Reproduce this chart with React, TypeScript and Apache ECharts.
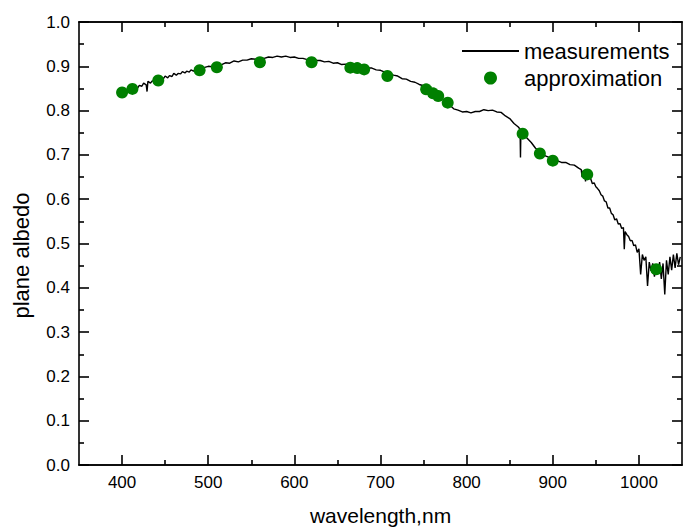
import React, { useEffect, useRef } from "react";
import * as echarts from "echarts";

// wavelength (nm) / plane albedo pairs
const measurementsVisible: [number, number][] = [
  [400, 0.842], [403, 0.846], [405, 0.848], [408, 0.845], [410, 0.849], [413, 0.853], [415, 0.855], [418, 0.851], [420, 0.857], [423, 0.855], [425, 0.862],
  [428, 0.858], [429, 0.843], [430, 0.866], [433, 0.862], [435, 0.867], [438, 0.866], [440, 0.873], [443, 0.868], [445, 0.874],
  [448, 0.872], [450, 0.878], [453, 0.874], [455, 0.879], [458, 0.877], [460, 0.884], [463, 0.880], [465, 0.884], [468, 0.883], [470, 0.888], [473, 0.885], [475, 0.889],
  [478, 0.887], [480, 0.892], [483, 0.889], [485, 0.893], [488, 0.891], [490, 0.896], [493, 0.894], [495, 0.897], [500, 0.900], [505, 0.899],
  [510, 0.904], [515, 0.903], [520, 0.908], [525, 0.907], [530, 0.912], [535, 0.910],
  [540, 0.914], [545, 0.914], [550, 0.917], [555, 0.916], [560, 0.919], [565, 0.918],
  [570, 0.921], [575, 0.920], [580, 0.923], [585, 0.921], [590, 0.923], [595, 0.920],
  [600, 0.921], [605, 0.918], [610, 0.918], [615, 0.915], [620, 0.916], [625, 0.913],
  [630, 0.913], [635, 0.910], [640, 0.911], [645, 0.907], [650, 0.908], [655, 0.904],
  [660, 0.905], [665, 0.902], [670, 0.902], [675, 0.899], [680, 0.899], [685, 0.896],
  [690, 0.896], [695, 0.892], [700, 0.891], [705, 0.887], [710, 0.885], [715, 0.880],
  [720, 0.878], [725, 0.872], [730, 0.871], [735, 0.866], [740, 0.864], [745, 0.859],
  [750, 0.856], [755, 0.849], [760, 0.845], [765, 0.836], [770, 0.831], [775, 0.821],
  [780, 0.813], [785, 0.804], [790, 0.801], [795, 0.797],
];

const measurementsNearIR: [number, number][] = [
  [800, 0.798], [805, 0.795], [810, 0.798], [815, 0.798], [820, 0.802], [825, 0.800],
  [830, 0.801], [835, 0.797], [840, 0.796], [845, 0.788], [850, 0.782], [855, 0.771],
  [860, 0.763], [862, 0.758], [862.5, 0.694], [863, 0.756], [865, 0.751], [870, 0.738],
  [875, 0.728], [880, 0.715], [885, 0.708], [890, 0.699], [895, 0.695], [900, 0.688],
  [905, 0.687], [910, 0.683], [915, 0.683], [920, 0.678], [925, 0.677], [930, 0.670],
  [933, 0.667], [934, 0.650], [935, 0.664], [937, 0.661], [938, 0.640], [939, 0.659],
  [940, 0.656],
];

const measurementsNoisy: [number, number][] = [
  [942, 0.648], [944, 0.646], [946, 0.635], [948, 0.637], [950, 0.628], [952, 0.624],
  [954, 0.619], [956, 0.610], [958, 0.607], [960, 0.596], [962, 0.594], [964, 0.580],
  [966, 0.580], [968, 0.568], [970, 0.565], [972, 0.553], [974, 0.556], [976, 0.544],
  [978, 0.545], [980, 0.534], [982, 0.536], [983, 0.487], [984, 0.527], [986, 0.520],
  [988, 0.516], [990, 0.506], [992, 0.507], [994, 0.495], [996, 0.497], [998, 0.480],
  [1000, 0.488], [1002, 0.430], [1004, 0.475], [1006, 0.462], [1008, 0.470], [1010, 0.404],
  [1012, 0.458], [1014, 0.438], [1016, 0.455], [1018, 0.425], [1020, 0.450], [1022, 0.432],
  [1024, 0.458], [1026, 0.420], [1028, 0.455], [1030, 0.385], [1032, 0.462], [1034, 0.430],
  [1036, 0.470], [1038, 0.440], [1040, 0.475], [1042, 0.445], [1044, 0.478], [1046, 0.452],
  [1048, 0.470],
];

const approxWavelengths = [400, 412, 442, 490, 510, 560, 620, 665, 673, 681, 708, 753, 761, 767, 778, 865, 885, 900, 940, 1020];
const approxValues = [0.841, 0.849, 0.868, 0.891, 0.898, 0.909, 0.909, 0.897, 0.896, 0.893, 0.878, 0.848, 0.839, 0.833, 0.818, 0.748, 0.703, 0.687, 0.656, 0.442];

const xMajorTicks = [400, 500, 600, 700, 800, 900, 1000];
const xMinorTicks = [450, 550, 650, 750, 850, 950];

const FONT = "'Liberation Sans', Arial, Helvetica, sans-serif";

export default function App() {
  const ref = useRef<HTMLDivElement>(null);

  useEffect(() => {
    if (!ref.current) return;
    const chart = echarts.init(ref.current, undefined, { renderer: "svg" });
    const measData = [...measurementsVisible, ...measurementsNearIR, ...measurementsNoisy];
    const approxData = approxWavelengths.map((w, i) => [w, approxValues[i]]);
    const axisLine = { show: true, lineStyle: { color: "#000", width: 1.6 } };
    const xBase = { type: "value", min: 350, max: 1050, splitLine: { show: false }, axisLine };

    chart.setOption({
      animation: false,
      backgroundColor: "#fff",
      textStyle: { fontFamily: FONT },
      grid: { left: 79, right: 1, top: 22, bottom: 65, containLabel: false },
      legend: {
        orient: "vertical",
        left: 462,
        top: 40,
        padding: 0,
        itemWidth: 57,
        itemHeight: 13,
        itemGap: 5,
        data: [
          { name: "measurements", icon: "path://M0 0 H57 V1.8 H0 Z", itemStyle: { color: "#000" } },
          { name: "approximation", icon: "circle" },
        ],
        textStyle: { fontSize: 22, color: "#000", fontFamily: FONT },
      },
      xAxis: [
        {
          ...xBase,
          position: "bottom",
          name: "wavelength,nm",
          nameLocation: "middle",
          nameGap: 40,
          nameTextStyle: { fontSize: 21, color: "#000", fontFamily: FONT },
          axisLabel: {
            customValues: xMajorTicks,
            fontSize: 17,
            color: "#000",
            margin: 9,
            fontFamily: FONT,
            formatter: (v: number) => String(v),
          },
          axisTick: { customValues: xMajorTicks, inside: true, length: 10, lineStyle: { color: "#000", width: 1.6 } },
        },
        {
          ...xBase,
          position: "bottom",
          axisLabel: { show: false },
          axisTick: { customValues: xMinorTicks, inside: true, length: 5, lineStyle: { color: "#000", width: 1.6 } },
        },
        {
          ...xBase,
          position: "top",
          axisLabel: { show: false },
          axisTick: { customValues: xMajorTicks, inside: true, length: 10, lineStyle: { color: "#000", width: 1.6 } },
        },
        {
          ...xBase,
          position: "top",
          axisLabel: { show: false },
          axisTick: { customValues: xMinorTicks, inside: true, length: 5, lineStyle: { color: "#000", width: 1.6 } },
        },
      ],
      yAxis: [
        {
          type: "value",
          min: 0,
          max: 1,
          interval: 0.1,
          position: "left",
          name: "plane albedo",
          nameLocation: "middle",
          nameGap: 47,
          nameTextStyle: { fontSize: 22, color: "#000", fontFamily: FONT, padding: [0, 24, 0, 0] },
          axisLine,
          splitLine: { show: false },
          axisLabel: { fontSize: 17, color: "#000", margin: 9, fontFamily: FONT, formatter: (v: number) => v.toFixed(1) },
          axisTick: { inside: true, length: 10, lineStyle: { color: "#000", width: 1.6 } },
          minorTick: { show: true, splitNumber: 2, length: 5, lineStyle: { color: "#000", width: 1.6 } },
        },
        {
          type: "value",
          min: 0,
          max: 1,
          interval: 0.1,
          position: "right",
          axisLine,
          splitLine: { show: false },
          axisLabel: { show: false },
          axisTick: { inside: true, length: 10, lineStyle: { color: "#000", width: 1.6 } },
          minorTick: { show: true, splitNumber: 2, length: 5, lineStyle: { color: "#000", width: 1.6 } },
        },
      ],
      series: [
        {
          name: "measurements",
          type: "line",
          xAxisIndex: 0,
          yAxisIndex: 0,
          data: measData,
          symbol: "none",
          lineStyle: { color: "#000", width: 1.4 },
          itemStyle: { color: "#000" },
          z: 2,
        },
        {
          name: "approximation",
          type: "scatter",
          xAxisIndex: 0,
          yAxisIndex: 0,
          data: approxData,
          symbol: "circle",
          symbolSize: 12,
          itemStyle: { color: "#008000", opacity: 1 },
          z: 3,
        },
      ],
    });
    return () => chart.dispose();
  }, []);

  return (
    <div
      ref={ref}
      style={{ position: "fixed", left: 0, top: 0, width: 683, height: 531, background: "#fff" }}
    />
  );
}
